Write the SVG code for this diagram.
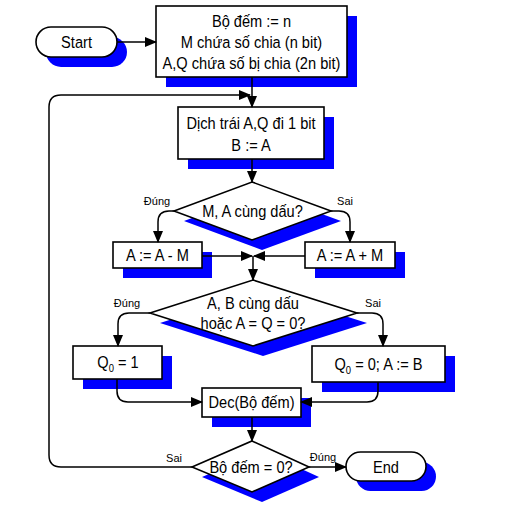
<svg xmlns="http://www.w3.org/2000/svg" width="528" height="510" viewBox="0 0 528 510">
<defs>
<style>
.sh{fill:#0000ff;stroke:none}
.bx{fill:#ffffff;stroke:#000000;stroke-width:1.6}
.t{font-family:"Liberation Sans",Arial,sans-serif;font-size:17px;fill:#000;text-anchor:middle;transform-box:fill-box;transform-origin:center;transform:scaleX(0.86)}
.s{font-family:"Liberation Sans",Arial,sans-serif;font-size:11px;fill:#000;text-anchor:middle}
.c{fill:none;stroke:#000;stroke-width:1.5}
</style>
<marker id="ah" markerUnits="userSpaceOnUse" markerWidth="12" markerHeight="10" refX="11" refY="5" orient="auto">
<path d="M0,0 L12,5 L0,10 Z" fill="#000"/>
</marker>
</defs>
<rect width="528" height="510" fill="#ffffff"/>

<g id="start">
<rect class="sh" x="46" y="37" width="81" height="30" rx="15"/>
<rect class="bx" x="36" y="27" width="81" height="30" rx="15"/>
<text class="t" x="76.5" y="48">Start</text>
</g>

<g id="init">
<rect class="sh" x="166" y="16" width="191" height="71"/>
<rect class="bx" x="156" y="6" width="191" height="71"/>
<text class="t" x="251.5" y="27">Bộ đếm := n</text>
<text class="t" x="251.5" y="48">M chứa số chia (n bit)</text>
<text class="t" x="251.5" y="69">A,Q chứa số bị chia (2n bit)</text>
</g>

<g id="shift">
<rect class="sh" x="188" y="117" width="146" height="52"/>
<rect class="bx" x="178" y="107" width="146" height="52"/>
<text class="t" x="251" y="129">Dịch trái A,Q đi 1 bit</text>
<text class="t" x="251" y="151">B := A</text>
</g>

<g id="cond1">
<polygon class="sh" points="262,192 341,221 262,250 184,221"/>
<polygon class="bx" points="252,182 331,211 252,240 174,211"/>
<text class="t" x="252.5" y="217">M, A cùng dấu?</text>
</g>

<g id="sub">
<rect class="sh" x="123" y="252" width="89" height="26"/>
<rect class="bx" x="113" y="242" width="89" height="26"/>
<text class="t" x="157.5" y="261">A := A - M</text>
</g>

<g id="add">
<rect class="sh" x="315" y="252" width="90" height="26"/>
<rect class="bx" x="305" y="242" width="90" height="26"/>
<text class="t" x="350" y="261">A := A + M</text>
</g>

<g id="cond2">
<polygon class="sh" points="263,290 367,323 263,356 160,323"/>
<polygon class="bx" points="253,280 357,313 253,346 150,313"/>
<text class="t" x="253" y="309">A, B cùng dấu</text>
<text class="t" x="253" y="329">hoặc A = Q = 0?</text>
</g>

<g id="q1">
<rect class="sh" x="83" y="356" width="89" height="33"/>
<rect class="bx" x="73" y="346" width="89" height="33"/>
<text class="t" x="118" y="368">Q<tspan dy="4" font-size="11">0</tspan><tspan dy="-4"> = 1</tspan></text>
</g>

<g id="q0">
<rect class="sh" x="322" y="356" width="133" height="36"/>
<rect class="bx" x="312" y="346" width="133" height="36"/>
<text class="t" x="378.5" y="370">Q<tspan dy="4" font-size="11">0</tspan><tspan dy="-4"> = 0; A := B</tspan></text>
</g>

<g id="dec">
<rect class="sh" x="212" y="398" width="99" height="29"/>
<rect class="bx" x="202" y="388" width="99" height="29"/>
<text class="t" x="251.5" y="408">Dec(Bộ đếm)</text>
</g>

<g id="cond3">
<polygon class="sh" points="262,451 319,477 262,502 202,477"/>
<polygon class="bx" points="252,441 309,467 252,492 192,467"/>
<text class="t" x="251" y="473">Bộ đếm = 0?</text>
</g>

<g id="end">
<rect class="sh" x="356" y="462" width="80" height="29" rx="14.5"/>
<rect class="bx" x="346" y="452" width="80" height="29" rx="14.5"/>
<text class="t" x="386" y="473">End</text>
</g>

<g id="connectors">
<path class="c" d="M117,42 L156,42" marker-end="url(#ah)"/>
<path class="c" d="M252,77 L252,107" marker-end="url(#ah)"/>
<path class="c" d="M192,467 L61,467 Q49,467 49,455 L49,107 Q49,95 61,95 L250,95" marker-end="url(#ah)"/>
<path class="c" d="M252,159 L252,182" marker-end="url(#ah)"/>
<path class="c" d="M174,211 L169,211 Q158,211 158,222 L158,242" marker-end="url(#ah)"/>
<path class="c" d="M331,211 L339,211 Q350,211 350,222 L350,242" marker-end="url(#ah)"/>
<path class="c" d="M202,256 L252,256" marker-end="url(#ah)"/>
<path class="c" d="M305,256 L254,256" marker-end="url(#ah)"/>
<path class="c" d="M253,256 L253,280" marker-end="url(#ah)"/>
<path class="c" d="M150,313 L129,313 Q118,313 118,324 L118,346" marker-end="url(#ah)"/>
<path class="c" d="M357,313 L372,313 Q383,313 383,324 L383,346" marker-end="url(#ah)"/>
<path class="c" d="M117,379 L117,391 Q117,402 128,402 L202,402" marker-end="url(#ah)"/>
<path class="c" d="M378,382 L378,391 Q378,402 367,402 L301,402" marker-end="url(#ah)"/>
<path class="c" d="M252,417 L252,441" marker-end="url(#ah)"/>
<path class="c" d="M309,467 L346,467" marker-end="url(#ah)"/>
<text class="s" x="157" y="205">Đúng</text>
<text class="s" x="345" y="205">Sai</text>
<text class="s" x="127" y="307">Đúng</text>
<text class="s" x="373" y="307">Sai</text>
<text class="s" x="174" y="462">Sai</text>
<text class="s" x="323" y="461">Đúng</text>
</g>
</svg>
